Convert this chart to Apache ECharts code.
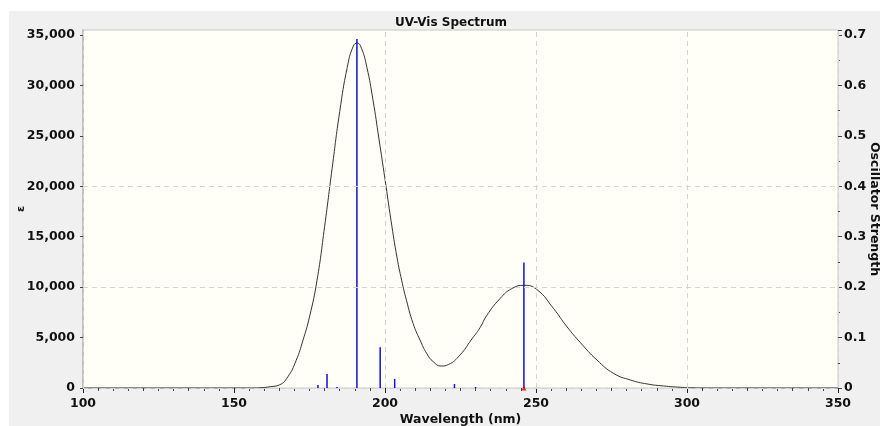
<!DOCTYPE html>
<html>
<head>
<meta charset="utf-8">
<script src="https://cdn.jsdelivr.net/npm/echarts@6/dist/echarts.min.js"></script>
<style>
  body { margin: 0; background: #fff; }
  #panel { position: absolute; left: 9px; top: 11px; width: 871px; height: 415px; background: #f0f0f0; }
  #chart { position: absolute; left: 0; top: 0; width: 880px; height: 426px; }
</style>
</head>
<body>
<div id="panel"></div>
<div id="chart"></div>
<script>
// spectrum curve (wavelength nm, epsilon)
const specX = [100, 155, 159, 162, 165, 167.8, 170.6, 172.8, 175, 177.5, 180, 182.5, 185, 187.5, 189.5, 190.8,
  192.2, 194, 196, 198, 200, 202, 204, 205.5, 207.1, 209.3, 211.6, 213.8, 216, 218.6, 221, 224.8, 228.5,
  231.5, 233.7, 238.1, 242, 246, 250.3, 255.8, 260.3, 264.7, 270.2, 275.7, 281.3, 286.8, 292.3, 297.9, 302, 306, 350];
const specY = [0, 0, 30, 130, 300, 1100, 2750, 4700, 7050, 10700, 16000, 21800, 27400, 31800, 33900, 34200,
  33700, 31800, 28600, 24700, 20700, 16600, 12900, 10700, 8700, 6400, 4750, 3430, 2600, 2180, 2330, 3260, 4750,
  6000, 7200, 8870, 9860, 10180, 9760, 7880, 6060, 4500, 2770, 1450, 790, 400, 200, 70, 15, 0, 0];

// oscillator strength sticks
const stickX = [177.8, 180.8, 184.1, 190.7, 198.4, 203.2, 223, 230, 246];
const stickF = [0.006, 0.028, 0.002, 0.692, 0.081, 0.018, 0.008, 0.002, 0.249];

// selected transition marker
const selected = [[246, 0]];

const xGridLines = [100, 200, 250, 300, 350];
const yGridLines = [0, 10000, 20000];

const font = 'DejaVu Sans';
const myChart = echarts.init(document.getElementById('chart'));

const option = {
  backgroundColor: 'transparent',
  animation: false,
  title: {
    text: 'UV-Vis Spectrum',
    left: 390, top: 12,
    textStyle: { fontFamily: font, fontSize: 12, fontWeight: 'bold', color: '#111' }
  },
  grid: {
    left: 83, right: 42, top: 30, bottom: 38,
    outerBoundsMode: 'none', containLabel: false,
    show: true, backgroundColor: '#fffff7', borderColor: '#c8c8c8', borderWidth: 1
  },
  xAxis: {
    type: 'value', min: 100, max: 350, interval: 50,
    name: 'Wavelength (nm)', nameLocation: 'middle', nameGap: 25, nameMoveOverlap: false,
    nameTextStyle: { fontFamily: font, fontSize: 12.5, fontWeight: 'bold', color: '#111' },
    axisLine: { show: false },
    axisTick: { show: true, length: 5, lineStyle: { color: '#222' } },
    minorTick: { show: true, splitNumber: 10, length: 3, lineStyle: { color: '#444' } },
    splitLine: { show: false },
    axisLabel: { fontFamily: font, fontSize: 12.5, fontWeight: 'bold', color: '#111', margin: 9 }
  },
  yAxis: [{
    type: 'value', min: 0, max: 35500, interval: 5000,
    name: 'ε', nameLocation: 'middle', nameGap: 56, nameRotate: 90, nameMoveOverlap: false,
    nameTextStyle: { fontFamily: font, fontSize: 11, fontWeight: 'bold', color: '#111' },
    axisLine: { show: true, lineStyle: { color: '#c0c0c0', width: 2 } },
    axisTick: { show: true, length: 3, lineStyle: { color: '#444' } },
    splitLine: { show: false },
    axisLabel: {
      showMaxLabel: false, fontFamily: font, fontSize: 12.5, fontWeight: 'bold', color: '#111', margin: 8,
      formatter: v => v.toLocaleString('en-US')
    }
  }, {
    type: 'value', min: 0, max: 0.71, interval: 0.1, position: 'right',
    name: 'Oscillator Strength', nameLocation: 'middle', nameGap: 30, nameRotate: -90, nameMoveOverlap: false,
    nameTextStyle: { fontFamily: font, fontSize: 12.5, fontWeight: 'bold', color: '#111' },
    axisLine: { show: false },
    axisTick: { show: true, length: 4, lineStyle: { color: '#444' } },
    minorTick: { show: true, splitNumber: 2, length: 2, lineStyle: { color: '#444' } },
    splitLine: { show: false },
    axisLabel: {
      showMaxLabel: false, fontFamily: font, fontSize: 12.5, fontWeight: 'bold', color: '#111', margin: 6,
      formatter: v => String(Math.round(v * 10) / 10)
    }
  }],
  series: [{
    // dashed grid lines
    type: 'line', data: [], silent: true, z: 1,
    markLine: {
      silent: true, symbol: 'none', label: { show: false },
      lineStyle: { color: '#d4d4d4', type: [5, 4], width: 1 },
      data: xGridLines.map(v => ({ xAxis: v })).concat(yGridLines.map(v => ({ yAxis: v })))
    }
  }, {
    name: 'Spectrum', type: 'line', z: 3,
    data: specX.map((x, i) => [x, specY[i]]),
    smooth: 0.5, showSymbol: false,
    lineStyle: { color: '#333', width: 1 }
  }, {
    name: 'Oscillator', type: 'custom', yAxisIndex: 1, z: 4,
    data: stickX.map((x, i) => [x, stickF[i]]),
    renderItem: function (params, api) {
      const p0 = api.coord([api.value(0), 0]);
      const p1 = api.coord([api.value(0), api.value(1)]);
      return {
        type: 'line',
        shape: { x1: p0[0], y1: p0[1], x2: p1[0], y2: p1[1] },
        style: { stroke: '#1010d8', lineWidth: 1.5 }
      };
    }
  }, {
    type: 'scatter', yAxisIndex: 1, z: 5, data: selected,
    symbol: 'triangle', symbolSize: 5, itemStyle: { color: '#e00000' }
  }]
};

myChart.setOption(option);
</script>
</body>
</html>
